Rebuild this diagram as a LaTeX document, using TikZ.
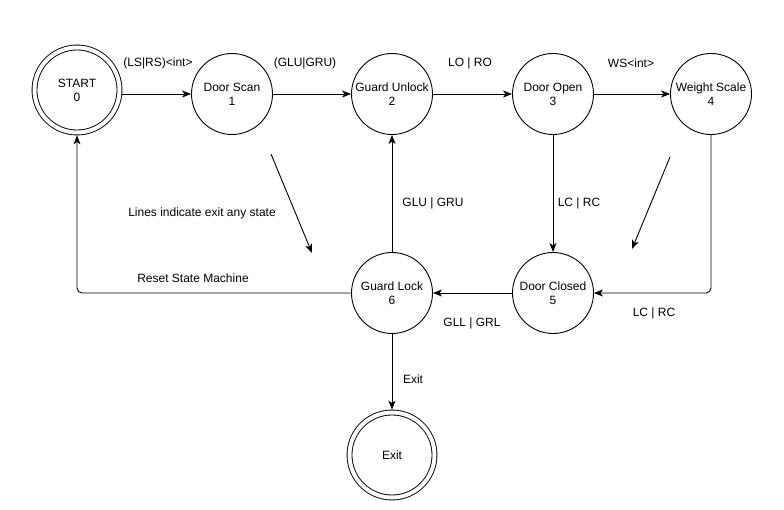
\documentclass[tikz,border=0pt]{standalone}
\usepackage{fontspec}
\setmainfont{Liberation Sans}
\usetikzlibrary{arrows.meta}
\begin{document}
\begin{tikzpicture}[x=1pt,y=-1pt,
  every node/.style={font=\fontsize{12}{14}\selectfont},
  state/.style={draw, circle, line width=0.9pt, minimum size=81pt, inner sep=0pt, align=center},
  final/.style={draw, circle, line width=0.9pt, double, double distance=4pt,
                minimum size=85pt, inner sep=0pt, align=center, outer sep=2.9pt},
  link/.style={line width=0.9pt, rounded corners=5pt,
               -{Stealth[length=9pt,width=7pt,inset=2.5pt]}},
  lbl/.style={inner sep=1pt}
]
\useasboundingbox (0,0) rectangle (784,510);

% states
\node[final] (start) at (77,90)  {START\\0};
\node[state] (scan)  at (232,94) {Door Scan\\1};
\node[state] (unlk)  at (392,94) {Guard Unlock\\2};
\node[state] (open)  at (553,94) {Door Open\\3};
\node[state] (wgt)   at (711,94) {Weight Scale\\4};
\node[state] (clsd)  at (553,293) {Door Closed\\5};
\node[state] (lock)  at (392,293) {Guard Lock\\6};
\node[final] (exit)  at (392,455) {Exit};

% transitions
\draw[link] (start.east |- scan.west) -- (scan.west);
\draw[link] (scan) -- (unlk);
\draw[link] (unlk) -- (open);
\draw[link] (open) -- (wgt);
\draw[link] (open) -- (clsd);
\draw[link] (wgt.south) |- (clsd.east);
\draw[link] (clsd) -- (lock);
\draw[link] (lock) -- (unlk);
\draw[link] (lock.west) -| (start.south);
\draw[link] (lock) -- (exit);

% free-standing pointers
\coordinate (p1a) at (271,154);
\coordinate (p1b) at (312,253);
\coordinate (p2a) at (670,157);
\coordinate (p2b) at (632,249);
\draw[link] (p1a) -- (p1b);
\draw[link] (p2a) -- (p2b);

% labels
\node[lbl] (l1)  at (158,63)  {(LS|RS)<int>};
\node[lbl] (l2)  at (305,63)  {(GLU|GRU)};
\node[lbl] (l3)  at (470,63)  {LO | RO};
\node[lbl] (l4)  at (631,63)  {WS<int>};
\node[lbl] (l5)  at (579,203) {LC | RC};
\node[lbl] (l6)  at (433,203) {GLU | GRU};
\node[lbl] (l7)  at (654,313) {LC | RC};
\node[lbl] (l8)  at (472,323) {GLL | GRL};
\node[lbl] (l9)  at (193,278) {Reset State Machine};
\node[lbl] (l10) at (202,213) {Lines indicate exit any state};
\node[lbl] (l11) at (413,379) {Exit};
\end{tikzpicture}
\end{document}
